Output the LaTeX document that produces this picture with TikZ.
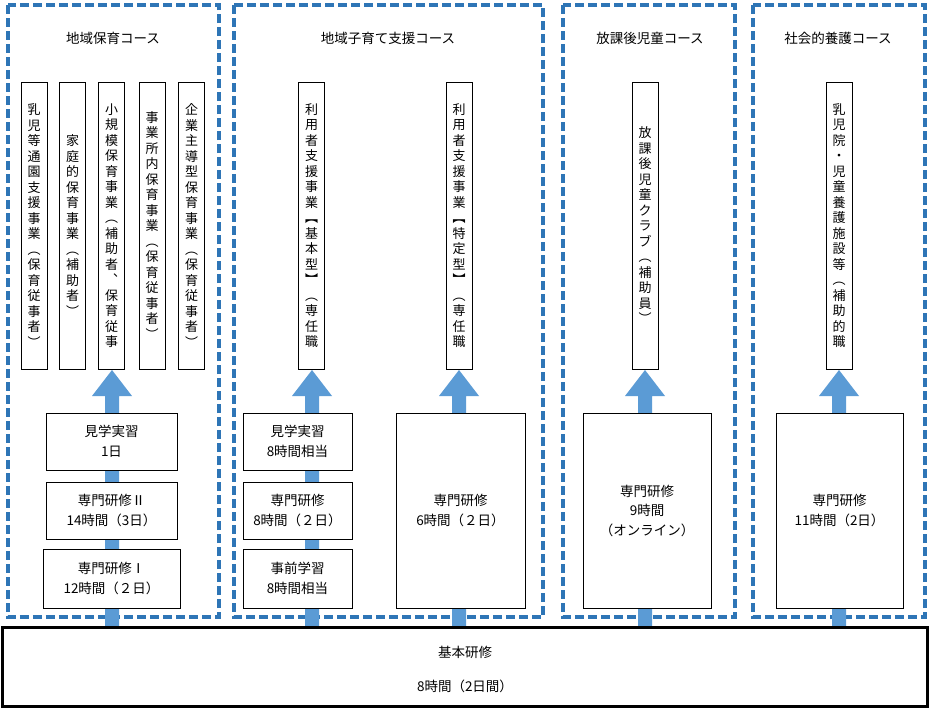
\documentclass[tikz,border=0pt]{standalone}
\usepackage{fontspec}
\setmainfont{Noto Sans CJK JP}
\begin{document}
\begin{tikzpicture}[x=1pt,y=-1pt,
  cont/.style={draw={rgb,255:red,46;green,117;blue,182},line width=3.4pt,dash pattern=on 9pt off 4pt},
  vbox/.style={draw,line width=0.9pt,fill=white,minimum width=26pt,minimum height=287pt,inner sep=0pt},
  vt/.style={align=center,font=\fontsize{13}{15.5}\selectfont,inner sep=0pt},
  tbox/.style={draw,line width=0.9pt,fill=white,align=center,inner sep=0pt,font=\fontsize{13.5}{19.5}\selectfont},
  ttl/.style={font=\fontsize{13.5}{15}\selectfont},
  arr/.style={fill={rgb,255:red,91;green,155;blue,213}}]
\useasboundingbox (0,0) rectangle (930,712);
\fill[white] (0,0) rectangle (930,712);
% containers
\draw[cont] (8,5) rectangle (219,617);
\draw[cont] (234,5) rectangle (543,617);
\draw[cont] (563,5) rectangle (735,617);
\draw[cont] (753,5) rectangle (925,617);
\node[ttl] (t1) at (113,38) {地域保育コース};
\node[ttl] (t2) at (388,38) {地域子育て支援コース};
\node[ttl] (t3) at (650,38) {放課後児童コース};
\node[ttl] (t4) at (838,38) {社会的養護コース};
% arrows
\foreach \ax in {112,312,459,645,839}{
  \fill[arr] (\ax-7,627) -- (\ax-7,396) -- (\ax-20,396) -- (\ax,370) -- (\ax+20,396) -- (\ax+7,396) -- (\ax+7,627) -- cycle;
}
% vertical boxes
\node[vbox] (v1) at (34,225.5) {};
\node[vt] at (v1) {乳\\児\\等\\通\\園\\支\\援\\事\\業\\︵\\保\\育\\従\\事\\者\\︶};
\node[vbox] (v2) at (72.5,225.5) {};
\node[vt] at (v2) {家\\庭\\的\\保\\育\\事\\業\\︵\\補\\助\\者\\︶};
\node[vbox] (v3) at (111.5,225.5) {};
\node[vt] at (v3) {小\\規\\模\\保\\育\\事\\業\\︵\\補\\助\\者\\︑\\保\\育\\従\\事};
\node[vbox] (v4) at (152,225.5) {};
\node[vt] at (v4) {事\\業\\所\\内\\保\\育\\事\\業\\︵\\保\\育\\従\\事\\者\\︶};
\node[vbox] (v5) at (191.5,225.5) {};
\node[vt] at (v5) {企\\業\\主\\導\\型\\保\\育\\事\\業\\︵\\保\\育\\従\\事\\者\\︶};
\node[vbox] (v6) at (311.5,225.5) {};
\node[vt] at (v6) {利\\用\\者\\支\\援\\事\\業\\︻\\基\\本\\型\\︼\\︵\\専\\任\\職};
\node[vbox] (v7) at (459,225.5) {};
\node[vt] at (v7) {利\\用\\者\\支\\援\\事\\業\\︻\\特\\定\\型\\︼\\︵\\専\\任\\職};
\node[vbox] (v8) at (645,225.5) {};
\node[vt] at (v8) {放\\課\\後\\児\\童\\ク\\ラ\\ブ\\︵\\補\\助\\員\\︶};
\node[vbox] (v9) at (839,225.5) {};
\node[vt] at (v9) {乳\\児\\院\\・\\児\\童\\養\\護\\施\\設\\等\\︵\\補\\助\\的\\職};
% training boxes
\node[tbox,minimum width=131pt,minimum height=57pt] (a1) at (111.5,441.5) {見学実習\\1日};
\node[tbox,minimum width=131pt,minimum height=57pt] (a2) at (111.5,510.5) {専門研修Ⅱ\\14時間（3日）};
\node[tbox,minimum width=137pt,minimum height=59pt] (a3) at (111.5,578.5) {専門研修Ⅰ\\12時間（２日）};
\node[tbox,minimum width=109pt,minimum height=57pt] (b1) at (297.5,441.5) {見学実習\\8時間相当};
\node[tbox,minimum width=109pt,minimum height=57pt] (b2) at (297.5,510.5) {専門研修\\8時間（２日）};
\node[tbox,minimum width=109pt,minimum height=59pt] (b3) at (297.5,578.5) {事前学習\\8時間相当};
\node[tbox,minimum width=129pt,minimum height=195pt] (c1) at (460.5,510.5) {専門研修\\6時間（２日）};
\node[tbox,minimum width=128pt,minimum height=195pt] (d1) at (647,510.5) {専門研修\\9時間\\（オンライン）};
\node[tbox,minimum width=127pt,minimum height=195pt] (e1) at (839.5,510.5) {専門研修\\11時間（2日）};
% base
\node[draw,line width=3pt,fill=white,minimum width=925pt,minimum height=79pt,inner sep=0pt] (base) at (465,667) {};
\node[font=\fontsize{13.5}{15}\selectfont] (bt1) at (465,652) {基本研修};
\node[font=\fontsize{13.5}{15}\selectfont] (bt2) at (465,686) {8時間（2日間）};
\end{tikzpicture}
\end{document}
